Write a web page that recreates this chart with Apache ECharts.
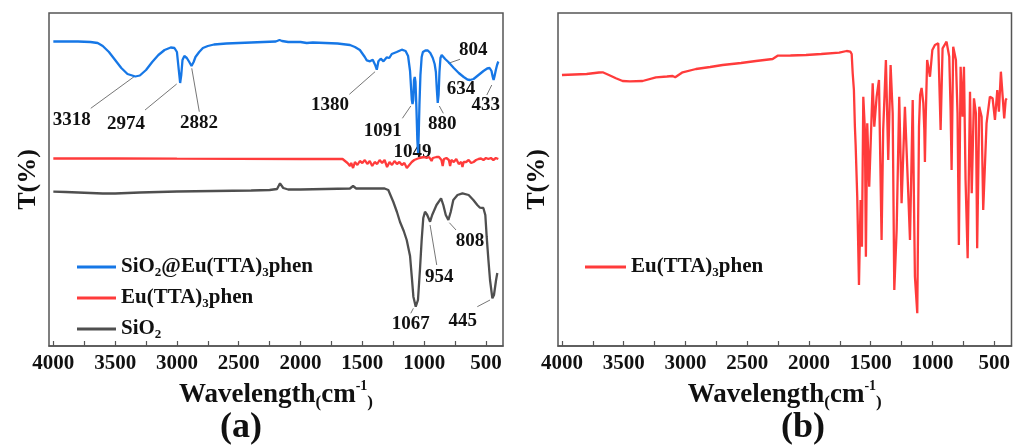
<!DOCTYPE html>
<html><head><meta charset="utf-8">
<script src="https://cdn.jsdelivr.net/npm/echarts@6/dist/echarts.min.js"></script>
<style>html,body{margin:0;padding:0;background:#fff}#c{width:1013px;height:446px}</style>
</head><body><div id="c"></div>
<script>
// ---- data: [wavenumber (cm-1), transmittance (arb. units, offset)] ----
const hybridSeries = [[4000,304.5],[3800,304.5],[3700,304],[3641,303],[3600,300],[3550,294],[3500,286],[3450,278],[3400,272],[3337,269.5],[3300,270.5],[3250,276],[3200,284],[3150,291],[3100,296],[3050,298.5],[3020,298],[3000,294],[2985,276],[2974,263],[2965,271],[2955,286],[2940,290],[2920,288],[2900,284],[2882,280],[2865,284],[2850,289],[2820,294],[2790,298],[2750,300],[2700,301.5],[2600,302.5],[2500,303],[2400,303.5],[2300,304],[2200,304.5],[2170,306],[2150,305],[2100,304],[2000,304],[1950,303],[1900,303.5],[1800,303],[1700,302.5],[1600,301],[1560,299],[1520,296],[1505,294.7],[1480,289],[1464,285.7],[1438,284.7],[1416,286.3],[1397,281.3],[1383,276.3],[1370,284.7],[1351,287.3],[1329,284.7],[1302,288.7],[1282,288],[1262,292],[1222,294],[1181,296.3],[1150,295],[1130,290],[1114,275],[1100,246.3],[1094,242],[1088,246],[1082,266],[1076,269],[1070,264],[1062,236],[1055,206],[1049,193],[1044,211],[1038,241],[1030,271],[1020,289],[1010,294],[990,295.5],[970,295.5],[950,293],[930,288],[915,282],[905,274],[897,256],[890,243],[883,251],[876,274],[868,288],[858,291],[845,290],[830,287],[815,285],[804,284],[790,282],[760,278],[720,273],[680,269],[650,266.5],[630,266],[600,267],[560,271],[520,275],[490,277.5],[470,278],[455,275],[445,269],[438,266],[430,270],[420,276],[410,281],[400,284.5]];

const complexSeriesA = [[4000,187.5],[3500,187.5],[3000,187.3],[2500,187.2],[2000,187],[1660,187],[1650,187],[1620,183],[1600,180],[1590,183],[1575,178],[1560,184],[1540,181],[1520,185],[1500,183],[1480,186],[1460,182],[1440,185],[1420,180],[1400,184],[1380,182],[1360,186],[1340,183],[1320,186],[1300,179],[1280,184],[1260,181],[1240,185],[1220,182],[1200,184],[1180,181],[1160,183],[1140,178],[1130,176],[1120,181],[1100,184],[1080,186],[1060,187],[1040,188],[1020,188.5],[1000,189],[980,188],[960,189],[940,185],[930,188],[900,189],[880,189],[860,186],[850,180],[840,187],[820,188],[800,186],[790,180],[780,186],[760,184],[740,187],[720,182],[700,184],[690,179],[680,184],[660,184],[640,186],[620,183],[600,184],[580,186],[560,187],[540,187.5],[520,186],[500,188],[480,187],[460,188],[440,186],[420,188],[400,187]];

const silicaSeries = [[4000,154.3],[3900,154],[3800,153.5],[3700,153],[3600,152.5],[3500,152.5],[3400,153],[3300,153.5],[3000,154.5],[2700,155],[2400,155.5],[2250,156],[2190,157],[2166,162.7],[2140,158],[2100,156.5],[2000,156.5],[1800,157],[1600,157.5],[1575,160],[1550,157.5],[1400,157.5],[1320,157.5],[1290,156],[1276,154.3],[1249,144],[1220,134],[1195,124],[1165,115],[1141,106],[1114,90],[1100,69.3],[1087,49.3],[1068,39.3],[1050,46],[1034,76],[1020,106],[1007,128],[993,134.3],[975,131],[952,124.3],[935,131],[900,141],[863,147.7],[845,141],[825,131],[804,126],[785,134],[764,146],[730,151],[690,152.7],[640,151],[602,146],[570,141],[548,138.3],[521,138],[505,131],[494,109.3],[480,86],[467,66],[448,47.7],[435,51],[418,66],[408,73]];

const complexSeriesB = [[4000,271],[3900,271.5],[3800,272],[3700,273.5],[3670,273.7],[3620,271],[3563,267.7],[3509,265],[3450,264.7],[3347,265],[3239,268.7],[3150,269.5],[3104,270],[3083,268.7],[3050,271.5],[3023,273.7],[2915,277],[2800,279],[2699,281],[2550,283],[2429,285],[2294,287],[2254,290.3],[2150,290.5],[2024,291],[1900,292],[1755,293.3],[1695,295],[1665,294.3],[1654,292],[1646,273],[1636,256],[1628,219.3],[1622,201],[1609,149.3],[1595,61],[1582,146],[1571,99.3],[1560,249.3],[1547,216],[1539,89.3],[1528,222.7],[1512,159.3],[1484,262.7],[1471,219.3],[1452,249.3],[1433,266],[1412,106],[1399,216],[1377,286],[1358,186],[1339,281],[1322,232.7],[1309,56],[1290,116],[1269,249.3],[1250,142.7],[1223,239.3],[1196,152.7],[1182,106],[1160,246],[1142,69.3],[1123,32.7],[1109,219.3],[1100,251],[1088,258],[1074,243],[1066,216],[1061,184],[1055,226],[1043,286],[1020,269.3],[1001,296],[980,301],[953,302.7],[934,216],[918,297.7],[886,304.3],[864,289.3],[853,236],[845,176],[832,299.3],[810,286],[797,232.7],[786,101],[772,279.3],[756,229.3],[745,279.3],[732,166],[715,87.7],[696,254.3],[682,152.7],[664,247.7],[648,232.7],[638,97.7],[621,239.3],[602,229.3],[589,136],[562,222.7],[535,249.3],[513,247.7],[494,226],[475,256],[462,234.3],[446,274.3],[432,274.3],[419,227.7],[407,246],[399,247.7]];

// peak annotations: [text, labelW, labelT, leaderFromW, leaderFromT, leaderToW, leaderToT] (leader null = none)
const peakNotes = [
  ['3318',3851,226,3339,270,3697,237.7],
  ['2974',3412,222,3002,262,3258,236],
  ['2882',2821,223.3,2880,277.7,2819,234.3],
  ['1380',1761,241,1397,274.3,1605,251.7],
  ['1091',1335,215.3,1108,240,1176,227.7],
  ['1049',1095,193.7,null,null,null,null],
  ['880',853,222,877,240,845,232.7],
  ['804',602,296,804,282.7,710,286.7],
  ['634',701,256.7,null,null,null,null],
  ['433',502,241,453,261,493,251],
  ['954',877,69.3,952,121,898,81],
  ['808',629,105.3,796,123.3,742,116],
  ['1067',1108,22,1087,37.7,1108,32.7],
  ['445',688,25.3,467,46,570,39.3]
];

const majorTicks = [4000,3500,3000,2500,2000,1500,1000,500];
const allTicks = [4000,3750,3500,3250,3000,2750,2500,2250,2000,1750,1500,1250,1000,750,500];

const FF = '"Liberation Serif","Times New Roman",serif';
const BLUE = '#1677e6', RED = '#ff3b3b', GREY = '#4f4f4f';

const legendNames = {
  'SiO2@Eu(TTA)3phen': 'SiO{sub|2}@Eu(TTA){sub|3}phen',
  'Eu(TTA)3phen-a': 'Eu(TTA){sub|3}phen',
  'SiO2': 'SiO{sub|2}',
  'Eu(TTA)3phen-b': 'Eu(TTA){sub|3}phen'
};
const legendText = {
  fontFamily: FF, fontWeight: 'bold', fontSize: 21, color: '#111', lineHeight: 24,
  rich: { sub: { fontFamily: FF, fontWeight: 'bold', fontSize: 13, color: '#111', verticalAlign: 'bottom', lineHeight: 14 } }
};

function xAxisFor(gi, min, max) {
  return {
    type: 'value', gridIndex: gi, inverse: true, min: min, max: max,
    axisLine: { show: true, lineStyle: { color: '#555', width: 1.5 } },
    axisTick: { show: true, inside: true, length: 5, customValues: allTicks, lineStyle: { color: '#555', width: 1.2 } },
    axisLabel: { customValues: majorTicks, formatter: v => String(v), fontFamily: FF, fontWeight: 'bold', fontSize: 21, color: '#111', margin: 7 },
    splitLine: { show: false },
    name: 'Wavelength{s|(}cm{sup|-1}{s|)}', nameLocation: 'middle', nameGap: 30,
    nameTextStyle: {
      fontFamily: FF, fontWeight: 'bold', fontSize: 27, color: '#111', lineHeight: 32,
      rich: {
        s: { fontFamily: FF, fontWeight: 'bold', fontSize: 17, color: '#111', verticalAlign: 'bottom', lineHeight: 22 },
        sup: { fontFamily: FF, fontWeight: 'bold', fontSize: 14, color: '#111', verticalAlign: 'top', lineHeight: 16 }
      }
    }
  };
}
function yAxisFor(gi) {
  return {
    type: 'value', gridIndex: gi, min: 0, max: 333,
    axisLine: { show: false }, axisTick: { show: false }, axisLabel: { show: false }, splitLine: { show: false },
    name: 'T(%)', nameLocation: 'middle', nameGap: 8, nameRotate: 90,
    nameTextStyle: { fontFamily: FF, fontWeight: 'bold', fontSize: 26, color: '#111' }
  };
}
function lineSeries(name, data, color, gi) {
  return {
    type: 'line', name: name, data: data, xAxisIndex: gi, yAxisIndex: gi,
    showSymbol: false, symbol: 'none', lineStyle: { color: color, width: 2.3 }, itemStyle: { color: color },
    silent: true, animation: false
  };
}

const noteLabels = peakNotes.map(n => [n[1], n[2], n[0]]);
const noteLines = peakNotes.filter(n => n[3] !== null).map(n => ({ coords: [[n[3], n[4]], [n[5], n[6]]] }));

const option = {
  animation: false,
  grid: [
    { left: 49, top: 13, width: 454, height: 333, show: true, borderColor: '#555', borderWidth: 1.5 },
    { left: 558, top: 13, width: 453.5, height: 333, show: true, borderColor: '#555', borderWidth: 1.5 }
  ],
  xAxis: [xAxisFor(0, 362, 4035), xAxisFor(1, 360, 4032)],
  yAxis: [yAxisFor(0), yAxisFor(1)],
  legend: [
    { data: ['SiO2@Eu(TTA)3phen', 'Eu(TTA)3phen-a', 'SiO2'], orient: 'vertical', left: 72, top: 250, itemGap: 7,
      icon: 'rect', itemWidth: 39, itemHeight: 3, textStyle: legendText, formatter: n => legendNames[n], selectedMode: false },
    { data: ['Eu(TTA)3phen-b'], orient: 'vertical', left: 580, top: 250,
      icon: 'rect', itemWidth: 41, itemHeight: 3, textStyle: legendText, formatter: n => legendNames[n], selectedMode: false }
  ],
  graphic: [
    { type: 'text', left: 220, top: 410, style: { text: '(a)', font: 'bold 36px ' + FF, fill: '#111' } },
    { type: 'text', left: 781, top: 410, style: { text: '(b)', font: 'bold 36px ' + FF, fill: '#111' } }
  ],
  series: [
    lineSeries('SiO2@Eu(TTA)3phen', hybridSeries, BLUE, 0),
    lineSeries('Eu(TTA)3phen-a', complexSeriesA, RED, 0),
    lineSeries('SiO2', silicaSeries, GREY, 0),
    lineSeries('Eu(TTA)3phen-b', complexSeriesB, RED, 1),
    { type: 'lines', coordinateSystem: 'cartesian2d', xAxisIndex: 0, yAxisIndex: 0, data: noteLines,
      lineStyle: { color: '#666', width: 0.9, opacity: 1 }, silent: true, animation: false },
    { type: 'scatter', xAxisIndex: 0, yAxisIndex: 0, data: noteLabels, symbolSize: 0, itemStyle: { color: '#111' },
      label: { show: true, position: 'inside', formatter: p => p.value[2], fontFamily: FF, fontWeight: 'bold', fontSize: 19,
        color: '#111', textBorderWidth: 0, opacity: 1 },
      silent: true, animation: false }
  ]
};
const chart = echarts.init(document.getElementById('c'), null, { renderer: 'canvas' });
chart.setOption(option);
</script></body></html>
